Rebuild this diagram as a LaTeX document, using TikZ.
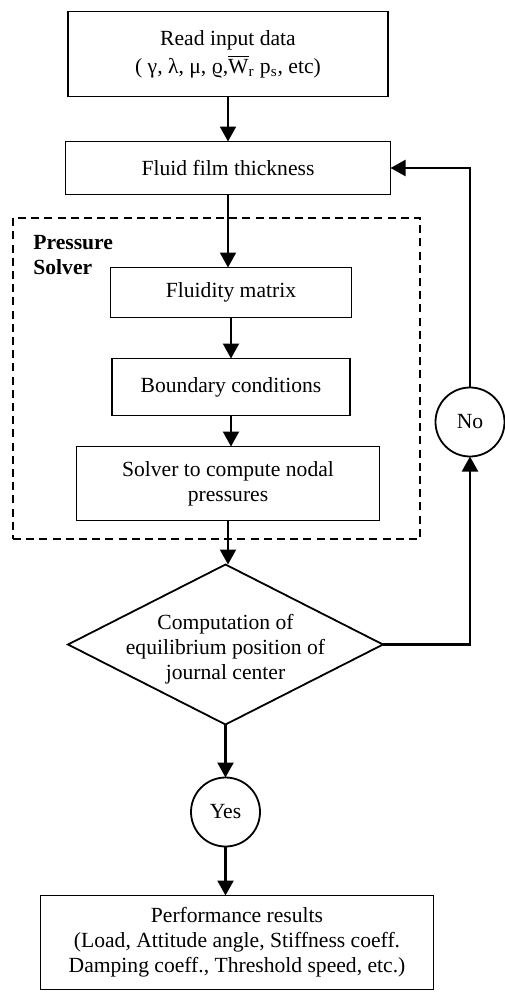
\documentclass[tikz,border=0pt]{standalone}
\usepackage{fontspec}
\setmainfont{Liberation Serif}
\usepackage{tikz}
\usetikzlibrary{arrows.meta,positioning,shapes.geometric,fit}

\begin{document}
\begin{tikzpicture}[
    block/.style={draw,line width=0.9pt,align=center,inner sep=2pt,outer sep=0pt,
      font=\fontsize{10.8}{12.5}\selectfont},
    decision/.style={draw,diamond,line width=0.9pt,inner sep=0pt,outer sep=0pt,
      minimum width=157.5pt,minimum height=80pt,aspect=1.97},
    answer/.style={draw,circle,line width=0.9pt,inner sep=0pt,outer sep=0pt,
      minimum size=34.5pt,font=\fontsize{10.8}{12.5}\selectfont},
    grp/.style={draw,line width=0.9pt,dash pattern=on 4pt off 2.6pt,inner sep=0pt},
    arrow/.style={-{Triangle[length=7.5pt,width=8pt]},line width=1.1pt}
  ]
    \useasboundingbox (0,0) rectangle (252pt,-498pt);
    \node[block,minimum width=160pt,minimum height=42.5pt] (read) at (114pt,-27pt)
      {Read input data\\[1.5pt]( γ, λ, μ, ϱ,$\overline{\mbox{W}}$\textsubscript{r} p\textsubscript{s}, etc)};
    \node[block,below=22.5pt of read,minimum width=162.5pt,minimum height=26.5pt] (film) {Fluid film thickness};
    \node[block,below=36.5pt of film,minimum width=120.5pt,minimum height=25pt,xshift=1.5pt] (fluid) {Fluidity matrix};
    \node[block,below=20.5pt of fluid,minimum width=119pt,minimum height=28.5pt] (bound) {Boundary conditions};
    \node[block,below=15.5pt of bound,minimum width=151.5pt,minimum height=37pt,xshift=-1.5pt] (solve)
      {Solver to compute nodal\\pressures};
    \node[decision,below=22pt of solve,xshift=-1.25pt,
      label={[block,draw=none,yshift=-2.5pt]center:Computation of\\equilibrium position of\\journal center}] (comp) {};
    \node[answer,below=26.5pt of comp] (yes) {Yes};
    \node[block,below=24.5pt of yes,xshift=5.75pt,minimum width=196.5pt,minimum height=47pt] (perf)
      {Performance results\\ (Load, Attitude angle, Stiffness coeff.\\Damping coeff., Threshold speed, etc.)};
    \node[answer] (no) at (235pt,-211pt) {No};
    % pressure solver group
    \coordinate (gnw) at (6.5pt,-109pt);
    \coordinate (gse) at (210pt,-269.5pt);
    \node[grp,fit=(gnw)(gse)] (group) {};
    \node[anchor=west,align=left,inner sep=0pt,font=\fontsize{10.8}{12.5}\selectfont\bfseries]
      (grplabel) at (16.5pt,-127.5pt) {Pressure\\Solver};
    \draw[arrow] (read) -- (read |- film.north);
    \draw[arrow] (film) -- (film |- fluid.north);
    \draw[arrow] (fluid) -- (fluid |- bound.north);
    \draw[arrow] (bound) -- (bound |- solve.north);
    \draw[arrow] (solve) -- (solve |- comp.north);
    \draw[arrow] (comp) -- (comp |- yes.north);
    \draw[arrow] (yes) -- (yes |- perf.north);
    \draw[arrow] (comp.east) -| (no);
    \draw[arrow] (no) |- (film);
  \end{tikzpicture}
\end{document}
